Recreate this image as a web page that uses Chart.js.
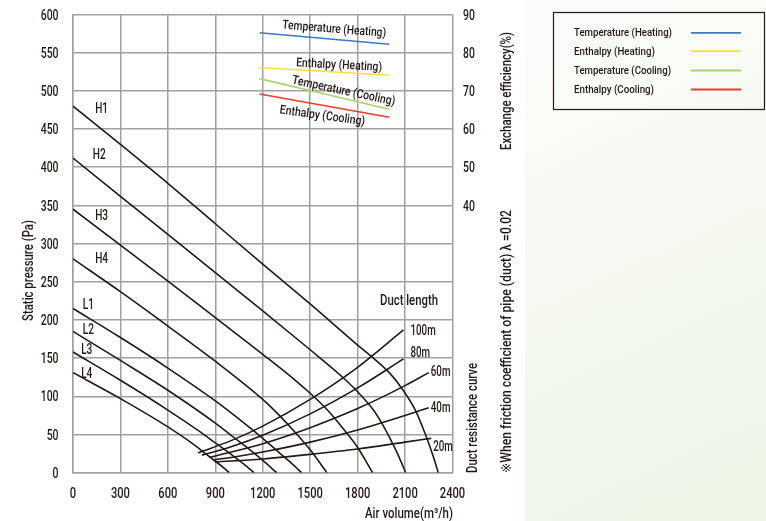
<!DOCTYPE html>
<html>
<head>
<meta charset="utf-8">
<script src="https://cdn.jsdelivr.net/npm/chart.js@4.4.1/dist/chart.umd.min.js"></script>
<style>
  html, body { margin: 0; padding: 0; background: #ffffff; }
  #wrap { position: relative; width: 766px; height: 521px; }
</style>
</head>
<body>
<div id="wrap"><canvas id="chart" width="766" height="521"></canvas></div>
<script>
// ---- axis ranges / ticks ----
const airVolumeMax = 2400;
const airVolumeStep = 300;
const pressureMax = 600;
const pressureStep = 50;
const efficiencyTickLabels = [40, 50, 60, 70, 80, 90];

// ---- fan performance curves: [air volume m3/h, static pressure Pa] ----
const fanH1 = [[0,480],[300,430],[600,379],[900,326],[1200,273],[1500,221],[1800,167],[1900,150],[2000,131],[2081,110],[2165,82],[2227,51],[2279,21],[2310,0]];
const fanH2 = [[0,412],[300,362],[600,312],[900,262],[1200,212],[1500,161],[1700,126],[1800,106],[1900,82],[1950,66],[2000,47],[2050,26],[2104,0]];
const fanH3 = [[0,345],[300,298],[600,251],[900,203],[1200,155],[1400,122],[1500,104],[1600,84],[1700,60],[1800,33],[1895,0]];
const fanH4 = [[0,280],[300,237],[600,192],[900,146],[1200,96],[1300,76],[1400,54],[1500,30],[1606,0]];
const fanL1 = [[0,215],[300,177],[600,137],[900,94],[1100,62],[1200,45],[1300,27],[1400,9],[1445,0]];
const fanL2 = [[0,185],[300,147],[600,108],[900,65],[1000,49],[1100,33],[1200,16],[1288,0]];
const fanL3 = [[0,158],[300,121],[600,82],[800,54],[900,39],[1000,24],[1100,8],[1145,0]];
const fanL4 = [[0,131],[300,97],[600,60],[750,39],[850,23],[900,15],[950,7],[988,0]];
const fanNames = ['H1', 'H2', 'H3', 'H4', 'L1', 'L2', 'L3', 'L4'];

// ---- duct resistance curves: [air volume, static pressure] ----
const duct100m = [[790,26],[1000,42],[1200,61],[1500,96],[1800,138],[2090,187]];
const duct80m  = [[815,23],[1000,34],[1200,49],[1500,77],[1800,111],[2090,149]];
const duct60m  = [[860,20],[1000,27],[1200,38],[1500,59],[1800,84],[2100,114],[2250,131]];
const duct40m  = [[890,17],[1000,20],[1200,27],[1500,40],[1800,56],[2100,75],[2250,85]];
const duct20m  = [[900,14],[1200,18],[1500,24],[1800,31],[2100,40],[2265,45]];
const ductNames = ['100m', '80m', '60m', '40m', '20m'];

// ---- exchange efficiency lines: [air volume, efficiency %] ----
const effTempHeating     = [[1180,85.2],[2000,82.2]];
const effEnthalpyHeating = [[1180,76.1],[2000,74.1]];
const effTempCooling     = [[1180,73.2],[2000,65.2]];
const effEnthalpyCooling = [[1180,69.2],[2000,63.1]];
const effNames = ['Temperature (Heating)', 'Enthalpy (Heating)', 'Temperature (Cooling)', 'Enthalpy (Cooling)'];

// ---- styling ----
const INK = '#231815';
const GRID = '#a0a0a0';
const FONT = 'Roboto, "DejaVu Sans", sans-serif';
const WEIGHT = '500';
const effColors = ['#3f78c4', '#ffe03a', '#a9d374', '#ee3b2c'];
const TICK_SQUEEZE = 0.72;   // narrow lettering for the tick numbers

const toXY = arr => arr.map(([x, y]) => ({ x, y }));

const curveStyle = { borderColor: INK, borderWidth: 1.6, pointRadius: 0, showLine: true,
  cubicInterpolationMode: 'monotone', yAxisID: 'y', fill: false };
const fanSets = [fanH1, fanH2, fanH3, fanH4, fanL1, fanL2, fanL3, fanL4].map((d, i) =>
  Object.assign({ label: fanNames[i], data: toXY(d) }, curveStyle));
const ductSets = [duct100m, duct80m, duct60m, duct40m, duct20m].map((d, i) =>
  Object.assign({ label: ductNames[i], data: toXY(d) }, curveStyle));
const effSets = [effTempHeating, effEnthalpyHeating, effTempCooling, effEnthalpyCooling].map((d, i) => ({
  label: effNames[i], data: toXY(d), borderColor: effColors[i], borderWidth: 1.6,
  pointRadius: 0, showLine: true, yAxisID: 'y2', fill: false
}));

// label anchors (data units) for curve names and efficiency captions
const fanLabelAt = [[181,478],[166,417],[181,337],[181,281],[97,221],[97,188],[87,162],[87,131]];
const effLabelAt = [[1652,86.4,4.5],[1683,77.0,3],[1713,70.2,12],[1578,63.7,8]];
const effLabelW = [104, 86, 105, 86];

// draws text; o.w squeezes it horizontally to that width, o.sx applies a fixed squeeze
function txt(ctx, s, x, y, o = {}) {
  const size = o.size || 13;
  ctx.save();
  ctx.font = WEIGHT + ' ' + size + 'px ' + FONT;
  let sx = o.sx || 1;
  if (o.w) sx = o.w / ctx.measureText(s).width;
  ctx.translate(x, y);
  if (o.angle) ctx.rotate(o.angle * Math.PI / 180);
  ctx.scale(sx, 1);
  ctx.fillStyle = o.color || INK;
  ctx.textAlign = o.align || 'center';
  ctx.textBaseline = 'alphabetic';
  // y is the visual middle of the capitals
  ctx.fillText(s, 0, size * 0.355);
  ctx.restore();
}

const decorations = {
  id: 'decorations',
  beforeDraw(chart) {
    const ctx = chart.ctx;
    ctx.save();
    ctx.fillStyle = '#ffffff';
    ctx.fillRect(0, 0, chart.width, chart.height);
    const g = ctx.createLinearGradient(525, 0, 766, 521);
    g.addColorStop(0, '#fbfcfa');
    g.addColorStop(1, '#edf5e6');
    ctx.fillStyle = g;
    ctx.fillRect(525, 0, 241, chart.height);
    ctx.restore();
  },
  afterDraw(chart) {
    const ctx = chart.ctx;
    const xs = chart.scales.x, ys = chart.scales.y, es = chart.scales.y2;

    // tick numbers
    xs.ticks.forEach(t => txt(ctx, String(t.value), xs.getPixelForValue(t.value), 492.5, { size: 15.5, sx: TICK_SQUEEZE }));
    ys.ticks.forEach(t => txt(ctx, String(t.value), 58.5, ys.getPixelForValue(t.value), { size: 14.5, sx: TICK_SQUEEZE, align: 'right' }));
    es.ticks.filter(t => efficiencyTickLabels.includes(t.value)).forEach(t =>
      txt(ctx, String(t.value), 463, es.getPixelForValue(t.value), { size: 14.5, sx: TICK_SQUEEZE, align: 'left' }));

    // curve names
    fanNames.forEach((n, i) => {
      txt(ctx, n, xs.getPixelForValue(fanLabelAt[i][0]), ys.getPixelForValue(fanLabelAt[i][1]), { size: 14, sx: 0.72 });
    });

    // duct length captions next to each curve end
    const ductEnds = [duct100m, duct80m, duct60m, duct40m, duct20m].map(d => d[d.length - 1]);
    const ductOff = [[7, 0], [7, -7], [2, -2], [2, -1], [2, 8]];
    ductNames.forEach((n, i) => {
      const [v, p] = ductEnds[i];
      txt(ctx, n, xs.getPixelForValue(v) + ductOff[i][0], ys.getPixelForValue(p) + ductOff[i][1], { size: 14, sx: 0.7, align: 'left' });
    });
    txt(ctx, 'Duct length', 409, 300, { size: 14.5, w: 58 });

    // efficiency captions
    effNames.forEach((n, i) => {
      const [v, e, a] = effLabelAt[i];
      txt(ctx, n, xs.getPixelForValue(v), es.getPixelForValue(e), { size: 12.5, angle: a, w: effLabelW[i] });
    });

    // axis titles
    txt(ctx, 'Static pressure (Pa)', 28, 270.5, { size: 14.5, angle: -90, w: 101 });
    txt(ctx, 'Air volume(m³/h)', 409, 512.5, { size: 14.5, w: 88 });
    txt(ctx, 'Exchange efficiency(%)', 506, 91, { size: 14.5, angle: -90, w: 118 });
    txt(ctx, 'Duct resistance curve', 472, 418, { size: 14.5, angle: -90, w: 110 });
    txt(ctx, '※When friction coefficient of pipe (duct) λ =0.02', 506, 341.5, { size: 14.5, angle: -90, w: 263 });

    // legend box
    ctx.save();
    ctx.strokeStyle = INK;
    ctx.lineWidth = 1.2;
    ctx.strokeRect(553.5, 12.5, 211, 97);
    const rows = [32.3, 50.7, 70, 89];
    const legendW = [98, 81, 97, 80];
    effNames.forEach((n, i) => {
      txt(ctx, n, 574, rows[i], { size: 11.5, align: 'left', w: legendW[i] });
      ctx.strokeStyle = effColors[i];
      ctx.lineWidth = 1.8;
      ctx.beginPath();
      ctx.moveTo(691, rows[i] + 0.5);
      ctx.lineTo(741, rows[i] + 0.5);
      ctx.stroke();
    });
    ctx.restore();
  }
};

new Chart(document.getElementById('chart'), {
  type: 'scatter',
  data: { datasets: [...fanSets, ...ductSets, ...effSets] },
  options: {
    responsive: false,
    animation: false,
    devicePixelRatio: 1,
    layout: { padding: { top: 14.5, left: 0, right: 0, bottom: 0 } },
    plugins: { legend: { display: false }, tooltip: { enabled: false } },
    scales: {
      x: {
        type: 'linear', min: 0, max: airVolumeMax,
        ticks: { stepSize: airVolumeStep, display: false },
        grid: { color: GRID, lineWidth: 1.5, drawTicks: false },
        border: { color: GRID, width: 1.5 },
        afterFit: s => { s.height = 48.3; }
      },
      y: {
        type: 'linear', position: 'left', min: 0, max: pressureMax,
        ticks: { stepSize: pressureStep, display: false },
        grid: { color: GRID, lineWidth: 1.5, drawTicks: false },
        border: { color: GRID, width: 1.5 },
        afterFit: s => { s.width = 73; }
      },
      y2: {
        type: 'linear', position: 'right', min: -30, max: 90,
        ticks: { stepSize: 10, display: false },
        grid: { display: false, drawTicks: false },
        border: { display: false },
        afterFit: s => { s.width = 313.5; }
      }
    }
  },
  plugins: [decorations]
});
</script>
</body>
</html>
